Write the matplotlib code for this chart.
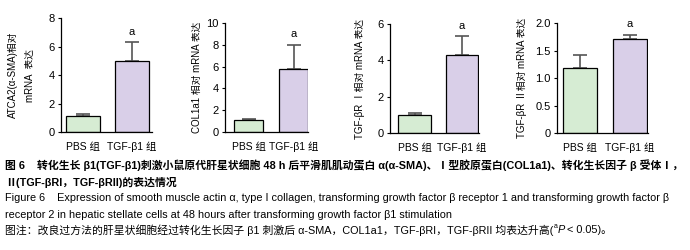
import matplotlib
matplotlib.use("Agg")
import matplotlib.pyplot as plt

plt.rcParams['font.family'] = ['Liberation Sans', 'Noto Sans CJK SC', 'DejaVu Sans']
plt.rcParams['axes.unicode_minus'] = False

# data
groups = ["PBS 组", "TGF-β1 组"]
sma_mean = [1.1, 4.95]
sma_err = [0.15, 1.4]
col_mean = [1.1, 5.8]
col_err = [0.1, 2.2]
r1_mean = [1.0, 4.3]
r1_err = [0.1, 1.05]
r2_mean = [1.18, 1.71]
r2_err = [0.24, 0.07]

ylabels = ["ATCA2(α-SMA)相对\nmRNA  表达", "COL1a1 相对 mRNA 表达",
           "TGF-βR Ⅰ相对 mRNA 表达", "TGF-βR Ⅱ相对 mRNA 表达"]
ymax = [8, 10, 6, 2.0]
yticks = [[0, 2, 4, 6, 8], [0, 2, 4, 6, 8, 10], [0, 2, 4, 6], [0, 0.5, 1.0, 1.5, 2.0]]
ytick_labels = [None, None, None, ["0", "0.5", "1.0", "1.5", "2.0"]]
sig_y = [7.0, 9.0, 5.9, 1.98]

W, H = 690, 250
# pixel boxes: left, right, top, bottom, bar width
boxes = [(61, 152, 18, 132, 0.7),
         (225, 308, 23, 132, 0.64),
         (390, 479, 24, 133, 0.69),
         (557, 648, 23, 133, 0.68)]
xlims = [(-0.46, 1.41), (-0.52, 1.31), (-0.52, 1.36), (-0.47, 1.36)]
label_x = [34, 202, 365, 527]

colors = ["#d6ecd3", "#d9cfe8"]
fig = plt.figure(figsize=(W / 100, H / 100), dpi=100)

data = [(sma_mean, sma_err), (col_mean, col_err), (r1_mean, r1_err), (r2_mean, r2_err)]
for i, (means, errs) in enumerate(data):
    l, r, t, b, bw = boxes[i]
    ax = fig.add_axes([l / W, 1 - b / H, (r - l) / W, (b - t) / H])
    ax.bar([0, 1], means, width=bw, color=colors, edgecolor="black", linewidth=0.9, zorder=2)
    ax.errorbar([0, 1], means, yerr=[[0, 0], errs], fmt="none", ecolor="#555555",
                elinewidth=1.2, capsize=5, capthick=1.2, zorder=1)
    ax.text(1, sig_y[i], "a", ha="center", va="center", fontsize=8)
    ax.set_xlim(*xlims[i])
    ax.set_ylim(0, ymax[i])
    ax.set_yticks(yticks[i])
    if ytick_labels[i]:
        ax.set_yticklabels(ytick_labels[i])
    ax.set_xticks([0, 1])
    ax.set_xticklabels(groups)
    ax.tick_params(axis="y", labelsize=8, length=2.5, width=0.8, pad=2)
    ax.tick_params(axis="x", labelsize=7.5, length=0, pad=7)
    for s in ["top", "right"]:
        ax.spines[s].set_visible(False)
    for s in ["left", "bottom"]:
        ax.spines[s].set_linewidth(0.9)
    ax.set_ylabel(ylabels[i], fontsize=7, linespacing=1.8)
    ax.yaxis.set_label_coords((label_x[i] - l) / (r - l), 0.5)

cap1 = "图 6    转化生长 β1(TGF-β1)刺激小鼠原代肝星状细胞 48 h 后平滑肌肌动蛋白 α(α-SMA)、Ⅰ型胶原蛋白(COL1a1)、转化生长因子 β 受体Ⅰ，"
cap2 = "Ⅱ(TGF-βRI，TGF-βRII)的表达情况"
cap3 = "Figure 6    Expression of smooth muscle actin α, type I collagen, transforming growth factor β receptor 1 and transforming growth factor β"
cap4 = "receptor 2 in hepatic stellate cells at 48 hours after transforming growth factor β1 stimulation"
fs = 7.8
cap5_parts = [("图注：改良过方法的肝星状细胞经过转化生长因子 β1 刺激后 α-SMA，COL1a1，TGF-βRI，TGF-βRII 均表达升高(", fs, "normal", 0),
              ("a", 5, "normal", 3),
              ("P", fs, "italic", 0),
              (" < 0.05)。", fs, "normal", 0)]

fig.text(5 / W, 1 - 165 / H, cap1, fontsize=fs, fontweight="bold", va="center")
fig.text(5 / W, 1 - 182 / H, cap2, fontsize=fs, fontweight="bold", va="center")
fig.text(5 / W, 1 - 198 / H, cap3, fontsize=fs, va="center")
fig.text(5 / W, 1 - 215 / H, cap4, fontsize=fs, va="center")

renderer = fig.canvas.get_renderer()
xpix = 5
for txt, size, style, dy in cap5_parts:
    t = fig.text(xpix / W, 1 - (230 - dy) / H, txt, fontsize=size, style=style, va="center")
    xpix += t.get_window_extent(renderer).width

fig.savefig("out.png", dpi=100)
